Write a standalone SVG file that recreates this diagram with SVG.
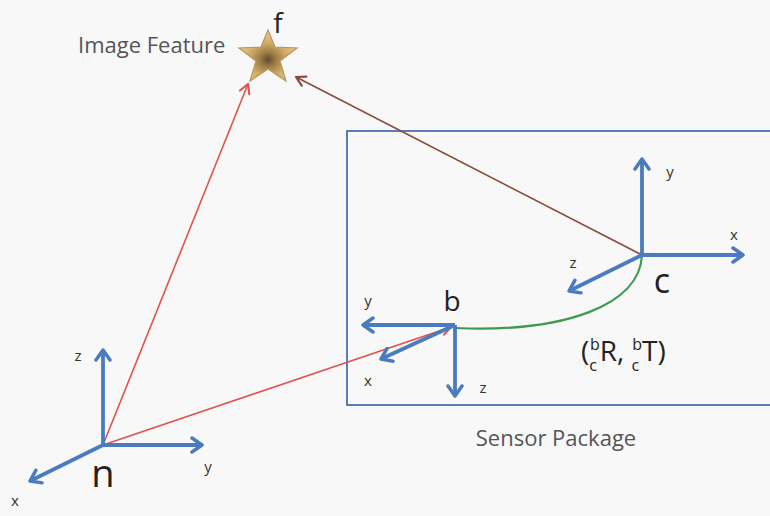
<svg xmlns="http://www.w3.org/2000/svg" width="770" height="516" viewBox="0 0 770 516">
<defs>
<marker id="ab" markerUnits="userSpaceOnUse" viewBox="-12 -9 14 18" markerWidth="14" markerHeight="18" refX="0" refY="0" orient="auto">
<path d="M-10,-7 L0,0 L-10,7" fill="none" stroke="#4a7bbf" stroke-width="3.5" stroke-linecap="round" stroke-linejoin="round"/>
</marker>
<marker id="ar" markerUnits="userSpaceOnUse" viewBox="-12 -8 14 16" markerWidth="14" markerHeight="16" refX="0" refY="0" orient="auto">
<path d="M-9,-5 L0,0 L-9,5" fill="none" stroke="#e0524f" stroke-width="2.2" stroke-linecap="round" stroke-linejoin="round"/>
</marker>
<marker id="abr" markerUnits="userSpaceOnUse" viewBox="-12 -8 14 16" markerWidth="14" markerHeight="16" refX="0" refY="0" orient="auto">
<path d="M-9,-5 L0,0 L-9,5" fill="none" stroke="#8a4a3a" stroke-width="2.2" stroke-linecap="round" stroke-linejoin="round"/>
</marker>
<radialGradient id="gold" cx="0.5" cy="0.58" r="0.6">
<stop offset="0" stop-color="#5e4a2e"/>
<stop offset="0.22" stop-color="#9a7a45"/>
<stop offset="0.55" stop-color="#d2ad68"/>
<stop offset="1" stop-color="#e8cf98"/>
</radialGradient>
<style>
.ax{stroke:#4a7bbf;stroke-width:3.8;fill:none;marker-end:url(#ab)}
.sm{font-family:"Open Sans","Liberation Sans",sans-serif;font-size:15px;fill:#333}
.big{font-family:"Open Sans","Liberation Sans",sans-serif;fill:#222}
.lbl{font-family:"Open Sans","Liberation Sans",sans-serif;font-size:22px;fill:#555}
.tf{font-family:"Open Sans","Liberation Sans",sans-serif;fill:#222}
</style>
</defs>
<rect width="770" height="516" fill="#f8f8f8"/>
<g id="sensor-package">
<rect x="347" y="131" width="440" height="274" fill="none" stroke="#4a6fb0" stroke-width="1.8"/>
<text class="lbl" x="556" y="446" text-anchor="middle">Sensor Package</text>
</g>
<g id="connectors">
<line x1="103" y1="445" x2="248" y2="84" stroke="#e0524f" stroke-width="1.6" marker-end="url(#ar)"/>
<line x1="103" y1="445" x2="451" y2="327" stroke="#e0524f" stroke-width="1.6" marker-end="url(#ar)"/>
<line x1="642" y1="255" x2="296" y2="77" stroke="#8a4a3a" stroke-width="1.6" marker-end="url(#abr)"/>
<path d="M455,328 C565,333 640,305 642,255" fill="none" stroke="#3f9a4f" stroke-width="2.2"/>
</g>
<g id="f">
<polygon points="268,30 275,47 297,48 280,61 286,81 268,69 250,81 256,61 239,48 261,47" fill="url(#gold)" stroke="#b8965a" stroke-width="1.2"/>
<text class="big" x="278" y="33" font-size="28" text-anchor="middle">f</text>
<text class="lbl" x="78" y="53">Image Feature</text>
</g>
<g id="n">
<line class="ax" x1="103" y1="445" x2="103" y2="350"/>
<line class="ax" x1="103" y1="445" x2="202" y2="445"/>
<line class="ax" x1="103" y1="445" x2="30" y2="481"/>
<text class="sm" x="78" y="361" text-anchor="middle">z</text>
<text class="sm" x="208" y="472" text-anchor="middle">y</text>
<text class="sm" x="15" y="506" text-anchor="middle">x</text>
<text class="big" x="103" y="487" font-size="38" text-anchor="middle">n</text>
</g>
<g id="b">
<line class="ax" x1="455" y1="325" x2="363" y2="325"/>
<line class="ax" x1="455" y1="325" x2="455" y2="396"/>
<line class="ax" x1="455" y1="325" x2="381" y2="359"/>
<text class="sm" x="368" y="306" text-anchor="middle">y</text>
<text class="sm" x="368" y="386" text-anchor="middle">x</text>
<text class="sm" x="483" y="393" text-anchor="middle">z</text>
<text class="big" x="452" y="311" font-size="28" text-anchor="middle">b</text>
</g>
<g id="c">
<line class="ax" x1="642" y1="255" x2="642" y2="159"/>
<line class="ax" x1="642" y1="255" x2="743" y2="255"/>
<line class="ax" x1="642" y1="255" x2="569" y2="291"/>
<text class="sm" x="670" y="177" text-anchor="middle">y</text>
<text class="sm" x="734" y="240" text-anchor="middle">x</text>
<text class="sm" x="573" y="268" text-anchor="middle">z</text>
<text class="big" x="662" y="293" font-size="34" text-anchor="middle">c</text>
</g>
<g id="transform">
<text class="tf" x="581" y="361" font-size="28">(<tspan font-size="16" dy="10">c</tspan><tspan font-size="16" dx="-7" dy="-21">b</tspan><tspan dy="11">R, </tspan><tspan font-size="16" dy="10">c</tspan><tspan font-size="16" dx="-7" dy="-21">b</tspan><tspan dy="11">T)</tspan></text>
</g>
</svg>
